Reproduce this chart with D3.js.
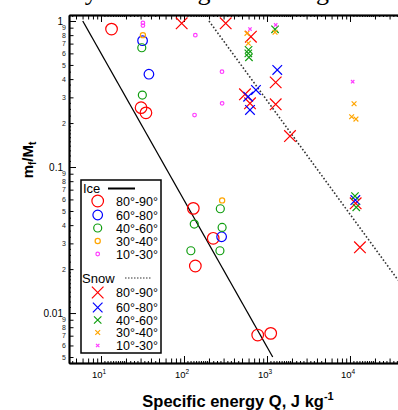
<!DOCTYPE html>
<html><head><meta charset="utf-8">
<script src="https://cdn.jsdelivr.net/npm/d3@7"></script>
<style>html,body{margin:0;padding:0;background:#fff;overflow:hidden}#chart{position:absolute;left:0;top:0}svg{display:block}</style>
</head><body><div id="chart"></div>
<script>
// ---------- data ----------
const bands = ["80°-90°", "60°-80°", "40°-60°", "30°-40°", "10°-30°"];
const bandColors = ["#ff0000", "#0000ff", "#119e11", "#ffa500", "#ff3cff"];
const circleR = [5.8, 4.8, 4.0, 2.6, 1.8];
const crossS = [5.8, 4.8, 3.7, 2.4, 1.7];

// Ice (circles): [Q (J/kg), mf/Mt]
const ice80 = [[13.4,0.88],[30.4,0.255],[34.8,0.235],[129.5,0.0521],[225,0.0325],[137,0.021],[773,0.00707],[1109,0.00726]];
const ice60 = [[31.7,0.733],[37.8,0.432],[284,0.0333]];
const ice40 = [[31,0.656],[31.5,0.311],[274,0.0518],[133,0.0407],[288,0.0386],[121,0.0267],[271,0.0267]];
const ice30 = [[32,0.80],[288,0.0591]];
const ice10 = [[32,0.97],[32,0.93],[137,0.80],[287,0.45],[288,0.273],[134,0.227]];

// Snow (crosses)
const snow80 = [[93.8,0.964],[318,0.964],[640,0.78],[1273,0.38],[1273,0.269],[543,0.315],[624,0.273],[1892,0.163],[11700,0.0564],[13180,0.0282]];
const snow60 = [[1330,0.462],[736,0.337],[593,0.303],[624,0.246],[11600,0.0594]];
const snow40 = [[600,0.634],[596,0.600],[606,0.564],[1250,0.877],[11480,0.0633],[11900,0.053]];
const snow30 = [[574,0.823],[596,0.704],[1250,0.837],[11200,0.271],[10470,0.221],[11800,0.213]];
const snow10 = [[624,0.88],[1273,0.939],[10770,0.384]];

// Fit lines (endpoints in data units)
const iceFit = [[6.03,1.0],[1172,0.005]];
const snowFit = [[200,1.0],[38000,0.0168]];

// Axis ticks
const xMajor = [10, 100, 1000, 10000];
const xMajorLabels = ["1", "2", "3", "4"];
const yMajor = [1, 0.1, 0.01];
const yMajorLabels = ["1", "0.1", "0.01"];

const iceSets = [ice80, ice60, ice40, ice30, ice10];
const snowSets = [snow80, snow60, snow40, snow30, snow10];

// ---------- layout ----------
const W = 398, H = 410;
const L = 69, T = 15, B = 363;
const x = d3.scaleLog().domain([4.117, 50000]).range([L, 408]);
const y = d3.scaleLog().domain([0.00455, 1.099]).range([B, T]);

const svg = d3.select("#chart").append("svg").attr("width", W).attr("height", H)
  .style("font-family", "'Liberation Sans', Arial, sans-serif");

// title (cut off at top edge, only descenders visible)
svg.append("text").attr("x", 37).attr("y", 0).attr("dominant-baseline", "alphabetic")
  .style("font-family", "'Liberation Serif', 'Times New Roman', serif")
  .style("font-size", "26px").text("Study of the large mass fragment");

svg.append("clipPath").attr("id", "clip").append("rect")
  .attr("x", L).attr("y", T).attr("width", W - L).attr("height", B - T);

// minor tick values
function minorVals(lo, hi, mults) {
  const out = [];
  for (let e = -4; e <= 6; e++) for (const m of mults) {
    const v = m * Math.pow(10, e);
    if (v > lo && v < hi) out.push(v);
  }
  return out;
}
const midMults = [2,3,4,5,6,7,8,9];
const tinyMults = [1.1,1.2,1.3,1.4,1.5,1.6,1.7,1.8,1.9,2.25,2.5,2.75,3.33,3.67,4.5];
const xDom = x.domain(), yDom = y.domain();

function styleAxis(g) {
  g.select(".domain").attr("stroke", "#000").attr("stroke-width", 1.5);
  g.selectAll(".tick line").attr("stroke", "#000").attr("stroke-width", 1);
}

// bottom axis
const gb = svg.append("g").attr("transform", `translate(0,${B})`);
gb.call(d3.axisBottom(x).tickValues(minorVals(xDom[0], xDom[1], tinyMults)).tickSize(-2).tickSizeOuter(0).tickFormat("")).call(styleAxis);
gb.append("g").call(d3.axisBottom(x).tickValues(minorVals(xDom[0], xDom[1], midMults)).tickSize(-4.5).tickSizeOuter(0).tickFormat("")).call(styleAxis);
gb.append("g").call(d3.axisBottom(x).tickValues(xMajor).tickSize(-7).tickSizeOuter(0).tickFormat("")).call(styleAxis);
xMajor.forEach((v, i) => {
  const t = gb.append("text").attr("x", x(v) - 2).attr("y", 15).attr("text-anchor", "middle")
    .style("font-size", "9.5px").attr("fill", "#000");
  t.append("tspan").text("10");
  t.append("tspan").attr("dy", -4).style("font-size", "6.5px").text(xMajorLabels[i]);
});

// top axis
const gt = svg.append("g").attr("transform", `translate(0,${T})`);
gt.call(d3.axisTop(x).tickValues(minorVals(xDom[0], xDom[1], tinyMults)).tickSize(-2).tickSizeOuter(0).tickFormat("")).call(styleAxis);
gt.append("g").call(d3.axisTop(x).tickValues(minorVals(xDom[0], xDom[1], midMults)).tickSize(-4.5).tickSizeOuter(0).tickFormat("")).call(styleAxis);
gt.append("g").call(d3.axisTop(x).tickValues(xMajor).tickSize(-7).tickSizeOuter(0).tickFormat("")).call(styleAxis);

// left axis
const gl = svg.append("g").attr("transform", `translate(${L},0)`);
gl.call(d3.axisLeft(y).tickValues(minorVals(yDom[0], yDom[1], tinyMults)).tickSize(-2).tickSizeOuter(0).tickFormat("")).call(styleAxis);
gl.append("g").call(d3.axisLeft(y).tickValues(minorVals(yDom[0], yDom[1], midMults)).tickSize(-4.5).tickSizeOuter(0).tickPadding(3)
  .tickFormat(d => String(Math.round(d / Math.pow(10, Math.floor(Math.log10(d) + 1e-9))))))
  .call(styleAxis).call(g => g.selectAll("text").style("font-size", "7px").attr("fill", "#222"));
gl.append("g").call(d3.axisLeft(y).tickValues(yMajor).tickSize(-7).tickSizeOuter(0).tickPadding(6)
  .tickFormat((d, i) => yMajorLabels[i]))
  .call(styleAxis).call(g => g.selectAll("text").style("font-size", "10px").attr("fill", "#000"));

// plot content
const plot = svg.append("g").attr("clip-path", "url(#clip)");
const line = d3.line().x(d => x(d[0])).y(d => y(d[1]));
plot.append("path").attr("d", line(iceFit)).attr("fill", "none").attr("stroke", "#000").attr("stroke-width", 1.3);
plot.append("path").attr("d", line(snowFit)).attr("fill", "none").attr("stroke", "#333")
  .attr("stroke-width", 1.6).attr("stroke-dasharray", "1.6,2");

function crossPath(s) { return `M${-s},${-s}L${s},${s}M${-s},${s}L${s},${-s}`; }

iceSets.forEach((set, i) => {
  plot.append("g").selectAll("circle").data(set).join("circle")
    .attr("cx", d => x(d[0])).attr("cy", d => y(d[1])).attr("r", circleR[i])
    .attr("fill", "none").attr("stroke", bandColors[i]).attr("stroke-width", 1.2);
});
snowSets.forEach((set, i) => {
  plot.append("g").selectAll("path").data(set).join("path")
    .attr("transform", d => `translate(${x(d[0])},${y(d[1])})`).attr("d", crossPath(crossS[i]))
    .attr("fill", "none").attr("stroke", bandColors[i]).attr("stroke-width", 1.2);
});

// legend
const lg = svg.append("g");
lg.append("rect").attr("x", 81).attr("y", 180).attr("width", 80).attr("height", 173)
  .attr("fill", "#fff").attr("stroke", "#000").attr("stroke-width", 1.5);
lg.append("text").attr("x", 83).attr("y", 193).style("font-size", "13px").text("Ice");
lg.append("line").attr("x1", 108).attr("x2", 135).attr("y1", 188.5).attr("y2", 188.5).attr("stroke", "#000").attr("stroke-width", 2);
const iceRowY = [201, 215, 228, 241, 254];
bands.forEach((b, i) => {
  lg.append("circle").attr("cx", 97.7).attr("cy", iceRowY[i]).attr("r", circleR[i])
    .attr("fill", "none").attr("stroke", bandColors[i]).attr("stroke-width", 1.2);
  lg.append("text").attr("x", 116).attr("y", iceRowY[i] + 4.5).style("font-size", "12.5px").text(b);
});
lg.append("text").attr("x", 82).attr("y", 283).style("font-size", "13px").text("Snow");
lg.append("line").attr("x1", 125).attr("x2", 151).attr("y1", 278).attr("y2", 278).attr("stroke", "#333")
  .attr("stroke-width", 1.2).attr("stroke-dasharray", "1.5,1.5");
const snowRowY = [292.5, 307.5, 320, 332.5, 345.5];
bands.forEach((b, i) => {
  lg.append("path").attr("transform", `translate(97.7,${snowRowY[i]})`).attr("d", crossPath(crossS[i]))
    .attr("fill", "none").attr("stroke", bandColors[i]).attr("stroke-width", 1.2);
  lg.append("text").attr("x", 116).attr("y", snowRowY[i] + 4.5).style("font-size", "12.5px").text(b);
});

// axis titles
const xl = svg.append("text").attr("x", 238).attr("y", 407).attr("text-anchor", "middle")
  .style("font-size", "16.5px").style("font-weight", "bold");
xl.append("tspan").text("Specific energy Q, J kg");
xl.append("tspan").attr("dy", -7).style("font-size", "11px").text("-1");

const yl = svg.append("text").attr("transform", "translate(33,160) rotate(-90)").attr("text-anchor", "middle")
  .style("font-size", "15px").style("font-weight", "bold");
yl.append("tspan").text("m");
yl.append("tspan").attr("dy", 3).style("font-size", "10px").text("f");
yl.append("tspan").attr("dy", -3).text("/M");
yl.append("tspan").attr("dy", 3).style("font-size", "10px").text("t");
</script></body></html>
